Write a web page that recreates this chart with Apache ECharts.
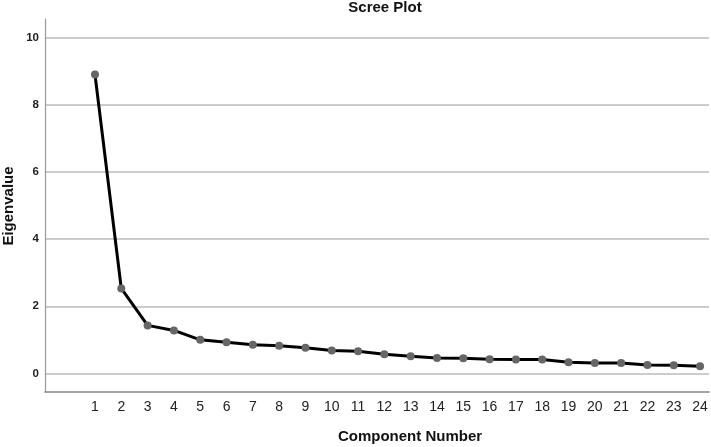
<!DOCTYPE html>
<html>
<head>
<meta charset="utf-8">
<script src="https://cdn.jsdelivr.net/npm/echarts@6/dist/echarts.min.js"></script>
<style>
html,body{margin:0;padding:0;background:#fff;}
#chart{width:711px;height:447px;}
</style>
</head>
<body>
<div id="chart"></div>
<script>
const components = [1,2,3,4,5,6,7,8,9,10,11,12,13,14,15,16,17,18,19,20,21,22,23,24];
const eigenvalues = [8.91,2.53,1.43,1.28,1.00,0.93,0.85,0.82,0.76,0.68,0.66,0.57,0.51,0.46,0.45,0.42,0.41,0.41,0.33,0.31,0.31,0.25,0.24,0.21];
const yTicks = [0,2,4,6,8,10];
const titleText = 'Scree Plot';
const xTitle = 'Component Number';
const yTitle = 'Eigenvalue';

const chart = echarts.init(document.getElementById('chart'));
const font = '"Liberation Sans", Arial, sans-serif';
chart.setOption({
  animation: false,
  backgroundColor: '#fff',
  grid: {left: 45, right: 2, top: 19, bottom: 55, containLabel: false},
  xAxis: {
    type: 'value',
    min: -0.9, max: 24.34,
    axisLine: {show: true, onZero: false, lineStyle: {color: '#888', width: 1.5}},
    axisTick: {show: false, customValues: components},
    splitLine: {show: false},
    axisLabel: {customValues: components, color: '#222', fontSize: 14, fontFamily: font, margin: 8}
  },
  yAxis: {
    type: 'value',
    min: -0.556, max: 10.565,
    axisLine: {show: true, onZero: false, lineStyle: {color: '#999', width: 1.2}},
    axisTick: {show: false, customValues: yTicks},
    splitLine: {show: true, lineStyle: {color: '#bbb', width: 1.5}},
    axisLabel: {customValues: yTicks, color: '#222', fontSize: 11.5, fontWeight: 'bold', fontFamily: font, margin: 6}
  },
  series: [{
    type: 'line',
    data: components.map((c, i) => [c, eigenvalues[i]]),
    lineStyle: {color: '#000', width: 3},
    symbol: 'circle',
    symbolSize: 8,
    itemStyle: {color: '#666'},
    z: 3
  }],
  graphic: [
    {type: 'text', x: 385, y: 8, style: {text: titleText, font: 'bold 15px ' + font, fill: '#111', textAlign: 'center', textVerticalAlign: 'middle'}},
    {type: 'text', x: 410, y: 437, style: {text: xTitle, font: 'bold 15px ' + font, fill: '#111', textAlign: 'center', textVerticalAlign: 'middle'}},
    {type: 'text', x: 9, y: 206, rotation: Math.PI / 2, style: {text: yTitle, font: 'bold 15px ' + font, fill: '#111', textAlign: 'center', textVerticalAlign: 'middle'}}
  ]
});
</script>
</body>
</html>
